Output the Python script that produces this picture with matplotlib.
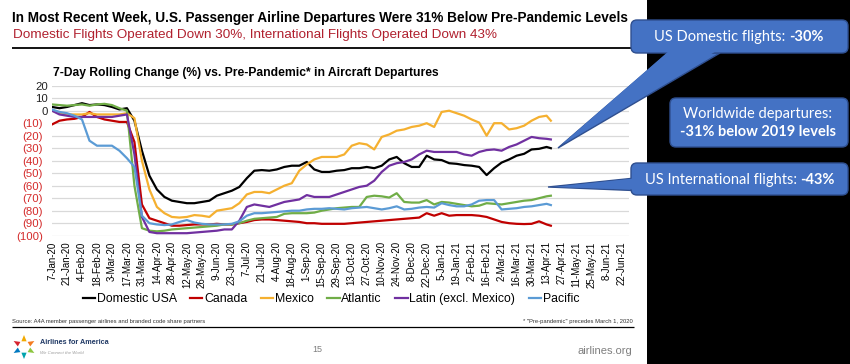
import matplotlib
matplotlib.use('Agg')
import matplotlib.pyplot as plt
from matplotlib.patches import FancyBboxPatch, Polygon, Rectangle
from matplotlib.transforms import ScaledTranslation
import numpy as np
import pandas as pd

plt.rcParams['font.family'] = ['Liberation Sans', 'DejaVu Sans']

# ---------------- data (weekly readings of the 7-day rolling change, %) ----------------
dates = list(pd.date_range('2020-01-07', periods=67, freq='7D')) + [pd.Timestamp('2021-04-17')]

domestic = [3, 2, 3, 4.5, 6, 4.5, 5, 4.5, 3, 1, 2,
            -8, -32, -52, -63, -69, -72, -73, -74, -74, -73, -72, -68, -66, -64,
            -61, -54, -48, -47.5, -48, -47, -45, -44, -44, -41,
            -47, -49, -49, -48, -47.5, -46, -46, -45, -46, -44,
            -39, -37, -42, -45, -45, -36, -39, -39.5, -42, -42.5,
            -43.5, -44, -45, -51.5, -46, -41.5, -39, -36, -34.5, -31, -30.5, -29, -30]
canada = [-11, -8, -7, -6.5, -5, -1, -5, -7, -8, -9, -9,
          -25, -75, -86, -88, -90, -92, -92, -91.5, -91, -91, -91, -90.5, -91, -91,
          -90, -89, -87.5, -87, -87, -87.5, -88, -88.5, -89, -90,
          -90, -90.5, -90.5, -90.5, -90.5, -90, -89.5, -89, -88.5, -88,
          -87.5, -87, -86.5, -86, -85.5, -82, -84, -82, -84, -83.5,
          -83.5, -83.5, -84, -85, -87, -89, -90, -90.5, -90.7, -90.5, -88.5, -91, -92]
mexico = [0, -2, -3, -3, -3, -2, -3, -3, -3, -3, -2,
          -6, -40, -63, -77, -82, -85, -85.5, -85, -83.5, -84, -85, -80, -79, -78,
          -74, -67, -65, -65, -66, -63, -60, -58, -48, -43,
          -39, -37, -37, -37, -35, -28, -26, -27, -31, -21,
          -19, -16, -15, -13, -12, -10, -13, -1, 0, -2,
          -4, -7, -9.5, -20, -10, -10, -15, -14, -12, -8, -5, -4, -8]
atlantic = [5, 4.5, 4, 4.5, 5, 4, 5, 5.5, 4.5, 2, 0,
            -60, -94, -96, -96.5, -96, -95, -94.5, -94, -93.5, -93, -92.5, -92, -91, -91,
            -90, -88, -86.5, -86, -85.5, -85, -82.5, -82, -82, -82,
            -81.5, -80, -79, -78, -77.5, -77, -77, -69, -68, -68.5,
            -69.5, -66, -73, -73.5, -73.5, -71.5, -75, -73, -73.5, -74.5,
            -75.5, -76.5, -76, -74, -74.5, -75, -74, -73, -72, -71.5, -70, -68.5, -68]
latin = [0, -3, -4, -5, -5, -5, -5, -5, -5, -4, -3,
         -35, -85, -97, -98, -98, -98, -98, -98, -97.5, -97, -96.5, -96, -95, -95,
         -88, -77, -75, -76, -77, -75, -73, -72, -71, -67.5,
         -69, -69, -69, -67, -65, -63, -61, -60, -56, -49,
         -44, -42, -41, -39, -35, -32, -33, -33, -33, -33,
         -35, -36, -33, -31.5, -31, -32, -29, -27, -24, -21, -22, -22.5, -23]
pacific = [1, -1, -2, -4, -7, -24, -28, -28, -28, -32, -38,
           -45, -84, -90, -91, -91.5, -91, -89, -87.5, -89.5, -90.5, -91, -91, -91, -90.5,
           -88.5, -84, -82, -82, -81.5, -81, -80.5, -80, -80, -79,
           -78.5, -78.5, -78, -78.5, -79, -78, -77.5, -77, -78, -79,
           -78, -76.5, -79, -78.5, -77.5, -77, -77.5, -74, -75.5, -76.5,
           -76.5, -75, -72, -71.5, -71.5, -79, -78.5, -78, -77, -76.5, -75.5, -74.5, -75.5]

series_names = ['Domestic USA', 'Canada', 'Mexico', 'Atlantic', 'Latin (excl. Mexico)', 'Pacific']
series_vals = [domestic, canada, mexico, atlantic, latin, pacific]
series_colors = ['#000000', '#C00000', '#F5B030', '#70AD47', '#7030A0', '#5B9BD5']

y_ticks = [20, 10, 0, -10, -20, -30, -40, -50, -60, -70, -80, -90, -100]
y_labels = ['20', '10', '0', '(10)', '(20)', '(30)', '(40)', '(50)', '(60)', '(70)',
            '(80)', '(90)', '(100)']
x_ticks = list(pd.date_range('2020-01-07', '2021-06-22', freq='14D'))
x_labels = [f"{d.day}-{d.strftime('%b-%y')}" for d in x_ticks]

title = 'In Most Recent Week, U.S. Passenger Airline Departures Were 31% Below Pre-Pandemic Levels'
subtitle = 'Domestic Flights Operated Down 30%, International Flights Operated Down 43%'
chart_title = '7-Day Rolling Change (%) vs. Pre-Pandemic* in Aircraft Departures'

# ---------------- figure ----------------
W, H = 850, 364
fig = plt.figure(figsize=(8.5, 3.64), dpi=100)
fig.patch.set_facecolor('white')


def fx(x):
    return x / W


def fy(y):
    return 1 - y / H


ax = fig.add_axes([fx(52), fy(235.7), (629 - 52) / W, (235.7 - 85.7) / H])
lines = []
for name, vals, col in zip(series_names, series_vals, series_colors):
    ln, = ax.plot(dates, vals, color=col, lw=1.6, label=name, solid_joinstyle='round')
    lines.append(ln)

ax.set_ylim(-100, 20)
ax.set_xlim(pd.Timestamp('2020-01-07'), pd.Timestamp('2021-06-29'))
ax.set_yticks(y_ticks)
ax.set_yticklabels(y_labels, fontsize=8.2)
ax.set_xticks(x_ticks)
ax.set_xticklabels(x_labels, rotation=90, fontsize=7, va='top', ha='center')
ax.tick_params(axis='both', length=0)
ax.tick_params(axis='y', pad=3)
ax.tick_params(axis='x', pad=4)
ax.grid(axis='y', color='#D9D9D9', lw=0.9)
ax.grid(axis='x', visible=False)
ax.set_axisbelow(True)
for s in ax.spines.values():
    s.set_visible(False)
for lab, v in zip(ax.get_yticklabels(), y_ticks):
    if v < 0:
        lab.set_color('#D42A2A')
        lab.set_transform(lab.get_transform() + ScaledTranslation(-5 / 100, 0, fig.dpi_scale_trans))
    else:
        lab.set_color('#222222')

# legend
fig.legend(lines, series_names, loc='center', bbox_to_anchor=(fx(331), fy(299)), ncol=6,
           frameon=False, fontsize=8.8, handlelength=1.0, handletextpad=0.15,
           columnspacing=1.1, borderaxespad=0)

# ---------------- overlay in pixel coordinates ----------------
ov = fig.add_axes([0, 0, 1, 1], zorder=5)
ov.set_xlim(0, W)
ov.set_ylim(H, 0)
ov.axis('off')

ov.text(12, 18, title, fontsize=9.8, fontweight='bold', va='center', ha='left', color='black')
ov.text(13, 35, subtitle, fontsize=9.7, va='center', ha='left', color='#B0202E')
ov.plot([12, 647], [47.5, 47.5], color='black', lw=1.3, solid_capstyle='butt')
ov.text(53, 73, chart_title, fontsize=8.7, fontweight='bold', va='center', ha='left', color='black')

# footer
ov.text(12, 321, 'Source: A4A member passenger airlines and branded code share partners',
        fontsize=4.2, va='center', ha='left', color='#333333')
ov.text(633, 321, '* "Pre-pandemic" precedes March 1, 2020',
        fontsize=4.2, va='center', ha='right', color='#333333')
ov.plot([12, 634], [327, 327], color='black', lw=0.9, solid_capstyle='butt')

# logo (decorative star of planes)
logo_cols = ['#F2A900', '#D6232F', '#0079C1', '#00A3AD', '#8CC63F', '#F47B20']
cxl, cyl = 24, 347
for k, c in enumerate(logo_cols):
    a = np.deg2rad(90 + k * 60)
    px, py = cxl + 8 * np.cos(a), cyl - 8 * np.sin(a)
    tri = Polygon([[px + 4 * np.cos(a), py - 4 * np.sin(a)],
                   [px + 3.5 * np.cos(a + 2.3), py - 3.5 * np.sin(a + 2.3)],
                   [px + 3.5 * np.cos(a - 2.3), py - 3.5 * np.sin(a - 2.3)]],
                  closed=True, facecolor=c, edgecolor='none')
    ov.add_patch(tri)
ov.text(40, 342, 'Airlines for America', fontsize=5.2, fontweight='bold', color='#1F3864',
        va='center', ha='left')
ov.text(40, 353, 'We Connect the World', fontsize=3.2, color='#9A9A9A', va='center', ha='left',
        style='italic')
ov.text(317, 350, '15', fontsize=6.5, color='#7F7F7F', va='center', ha='center')
ov.text(632, 351, 'airlines.org', fontsize=8, color='#7F7F7F', va='center', ha='right')

# black panel on the right
ov.add_patch(Rectangle((647, 0), W - 647, H, facecolor='black', edgecolor='none', zorder=1))

BLUE = '#4472C4'
EDGE = '#2F4F8F'


def callout_box(x0, y0, x1, y1, z=3):
    b = FancyBboxPatch((x0, y0), x1 - x0, y1 - y0,
                       boxstyle='round,pad=0,rounding_size=6',
                       facecolor=BLUE, edgecolor=EDGE, lw=1.0, zorder=z)
    ov.add_patch(b)


def tail(pts, inner):
    ov.add_patch(Polygon(pts, closed=True, facecolor=BLUE, edgecolor=EDGE, lw=1.0, zorder=2))
    ov.add_patch(Polygon(inner, closed=True, facecolor=BLUE, edgecolor='none', zorder=4))


renderer = fig.canvas.get_renderer()


def mixed_text(cx, cy, parts, fs):
    ts, ws = [], []
    for t, w in parts:
        tt = ov.text(0, cy, t, fontsize=fs, fontweight=w, color='white', va='center',
                     ha='left', family=['Lato', 'DejaVu Sans'], zorder=10)
        ws.append(tt.get_window_extent(renderer=renderer).width)
        ts.append(tt)
    x = cx - sum(ws) / 2
    for tt, w in zip(ts, ws):
        tt.set_x(x)
        x += w


# callout 1: US Domestic
callout_box(631, 20, 848, 53)
tail([[668, 53], [720, 53], [558, 148]], [[670, 50], [718, 50], [561, 145]])
mixed_text(739, 37, [('US Domestic flights: ', 'normal'), ('-30%', 'bold')], 10.5)

# callout 2: Worldwide
callout_box(670, 98, 848, 147)
mixed_text(758, 114, [('Worldwide departures:', 'normal')], 10.5)
mixed_text(758, 132, [('-31% below 2019 levels', 'bold')], 10.5)

# callout 3: US International
callout_box(631, 163, 848, 195)
tail([[548, 187], [645, 177], [645, 191]], [[553, 187], [634, 178.5], [634, 189.5]])
mixed_text(740, 180, [('US International flights: ', 'normal'), ('-43%', 'bold')], 10.5)

fig.savefig('out.png', dpi=100, facecolor='white')
